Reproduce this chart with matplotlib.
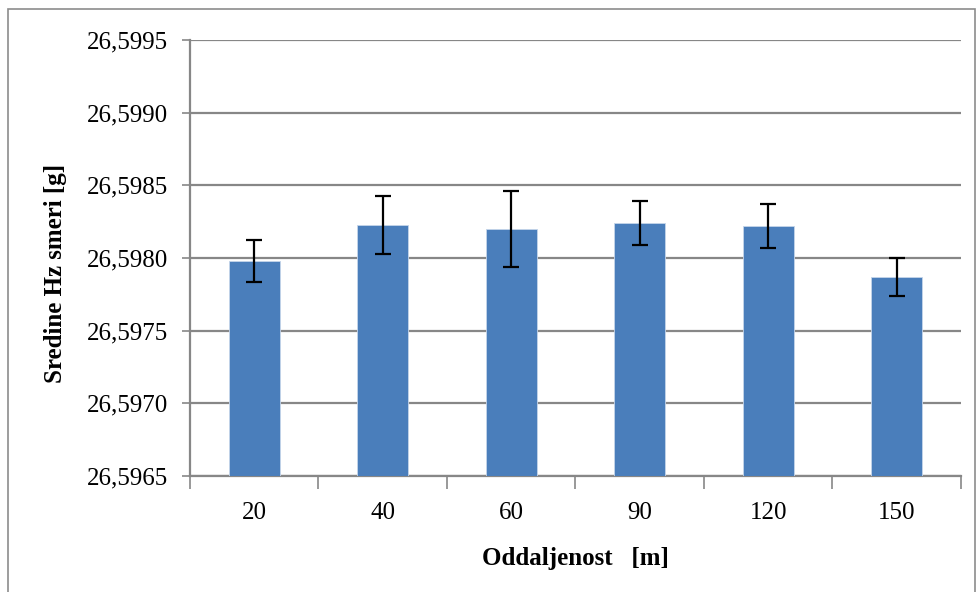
import matplotlib
matplotlib.use("Agg")
import matplotlib.pyplot as plt
from matplotlib.patches import Rectangle
import numpy as np

categories = ["20", "40", "60", "90", "120", "150"]
means = [26.59798, 26.59823, 26.59820, 26.59824, 26.59822, 26.59787]
errors = [0.000145, 0.00020, 0.00026, 0.00015, 0.00015, 0.00013]
yticks = [26.5965, 26.5970, 26.5975, 26.5980, 26.5985, 26.5990, 26.5995]
ytick_labels = ["26,5965", "26,5970", "26,5975", "26,5980", "26,5985", "26,5990", "26,5995"]

plt.rcParams['font.family'] = ['Liberation Serif', 'DejaVu Serif']

W, H = 978, 592
fig = plt.figure(figsize=(W / 100, H / 100), dpi=100)
ax = fig.add_axes([190 / W, 1 - 476 / H, (961 - 190) / W, (476 - 40) / H])

grid_c = '#878787'
x = np.arange(len(categories))
ax.bar(x, means, width=0.4, color='#4a7ebb', edgecolor='#c5d5ea', linewidth=0.6, zorder=3)
ax.errorbar(x, means, yerr=errors, fmt='none', ecolor='black', elinewidth=1.6,
            capsize=6, capthick=1.6, zorder=4)

ax.set_ylim(yticks[0], yticks[-1])
ax.set_xlim(-0.5, len(categories) - 0.5)
ax.set_yticks(yticks)
ax.set_yticklabels(ytick_labels, fontsize=18)
ax.yaxis.grid(True, color=grid_c, linewidth=1.6, zorder=0)
ax.set_axisbelow(True)

ax.set_xticks(x)
ax.set_xticklabels(categories, fontsize=18)
ax.tick_params(axis='x', length=0, pad=19)
ax.set_xticks(np.arange(len(categories) + 1) - 0.5, minor=True)
ax.tick_params(axis='x', which='minor', length=9, width=1.2, color=grid_c)
ax.tick_params(axis='y', length=6, width=1.2, color=grid_c, pad=10)

for s in ['top', 'right']:
    ax.spines[s].set_visible(False)
for s in ['left', 'bottom']:
    ax.spines[s].set_color(grid_c)
    ax.spines[s].set_linewidth(1.6)

ax.set_xlabel("Oddaljenost   [m]", fontsize=18, fontweight='bold', labelpad=16)
ax.set_ylabel("Sredine Hz smeri [g]", fontsize=18, fontweight='bold')
ax.yaxis.set_label_coords((67 - 190) / 771, 1 - (273 - 40) / 436)

fig.patches.append(Rectangle((8 / W, -0.05), (975 - 8) / W, 1 - 9 / H + 0.05,
                             transform=fig.transFigure, fill=False,
                             edgecolor='#8c8c8c', linewidth=1.2))

fig.savefig("out.png", dpi=100)
